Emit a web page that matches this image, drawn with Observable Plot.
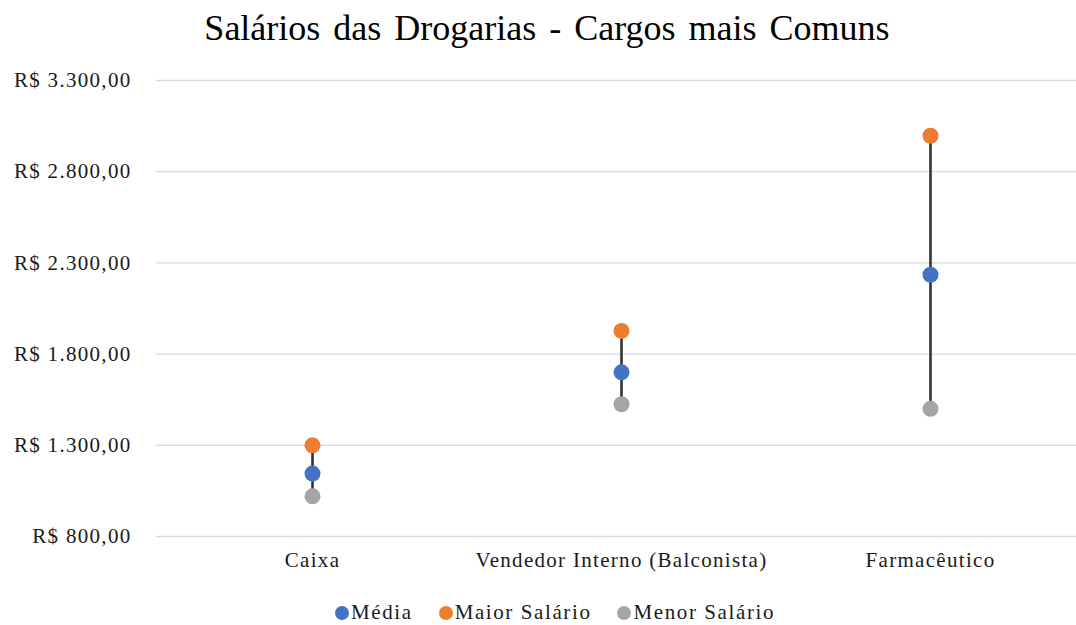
<!DOCTYPE html>
<html>
<head>
<meta charset="utf-8">
<script src="https://cdn.jsdelivr.net/npm/d3@7"></script>
<script src="https://cdn.jsdelivr.net/npm/@observablehq/plot@0.6"></script>
<style>
  html, body { margin: 0; padding: 0; background: #fff; }
  body { width: 1076px; height: 625px; overflow: hidden; font-family: "Liberation Serif", "Times New Roman", serif; }
  #title { height: 56px; text-align: center; font-size: 36px; line-height: 56px; color: #000; word-spacing: 4px; padding-left: 18px; }
  #chart svg { display: block; }
  #legend { display: flex; justify-content: center; gap: 26px; font-size: 21px; letter-spacing: 1.6px; color: #1a1a1a; height: 25px; align-items: center; padding-left: 34px; }
  #legend span.item { display: flex; align-items: center; }
  #legend span.sw { display: inline-block; width: 14px; height: 14px; border-radius: 50%; margin-right: 2px; }
</style>
</head>
<body>
<div id="title">Salários das Drogarias - Cargos mais Comuns</div>
<div id="chart"></div>
<div id="legend"></div>
<script>
const categories = ["Caixa", "Vendedor Interno (Balconista)", "Farmacêutico"];
const media = [1145, 1700, 2235];
const maiorSalario = [1300, 1927, 2997];
const menorSalario = [1020, 1525, 1500];
const seriesNames = ["Média", "Maior Salário", "Menor Salário"];
const seriesColors = ["#4472C4", "#ED7D31", "#A5A5A5"];
const yTicks = [800, 1300, 1800, 2300, 2800, 3300];

const ranges = categories.map((c, i) => ({cat: c, lo: menorSalario[i], hi: maiorSalario[i]}));
const points = [];
categories.forEach((c, i) => {
  points.push({cat: c, serie: seriesNames[1], v: maiorSalario[i]});
  points.push({cat: c, serie: seriesNames[2], v: menorSalario[i]});
  points.push({cat: c, serie: seriesNames[0], v: media[i]});
});

const fmt = v => "R$ " + d3.format(",.2f")(v).replace(/,/g, "#").replace(/\./g, ",").replace(/#/g, ".");

const chart = Plot.plot({
  width: 1076,
  height: 544,
  marginTop: 24,
  marginBottom: 64,
  marginLeft: 156,
  marginRight: 0,
  style: {fontFamily: "'Liberation Serif', 'Times New Roman', serif", fontSize: "21px", letterSpacing: "1.3px", color: "#1a1a1a", background: "#fff", overflow: "visible"},
  x: {type: "point", domain: categories, range: [156, 1085], padding: 0.5, label: null},
  y: {domain: [800, 3300], label: null},
  color: {domain: seriesNames, range: seriesColors},
  marks: [
    Plot.ruleY(yTicks, {stroke: "#d9d9d9", strokeWidth: 1.3}),
    Plot.ruleX(ranges, {x: "cat", y1: "lo", y2: "hi", stroke: "#333", strokeWidth: 2.6}),
    Plot.dot(points, {x: "cat", y: "v", fill: "serie", r: 8, stroke: null}),
    Plot.axisY({ticks: yTicks, tickFormat: fmt, tickSize: 0, tickPadding: 25, label: null, fontSize: 21}),
    Plot.axisX({tickSize: 0, tickPadding: 16, label: null, fontSize: 21})
  ]
});
document.getElementById("chart").appendChild(chart);

const legend = document.getElementById("legend");
seriesNames.forEach((n, i) => {
  const it = document.createElement("span");
  it.className = "item";
  const sw = document.createElement("span");
  sw.className = "sw";
  sw.style.background = seriesColors[i];
  it.appendChild(sw);
  it.appendChild(document.createTextNode(n));
  legend.appendChild(it);
});
</script>
</body>
</html>
